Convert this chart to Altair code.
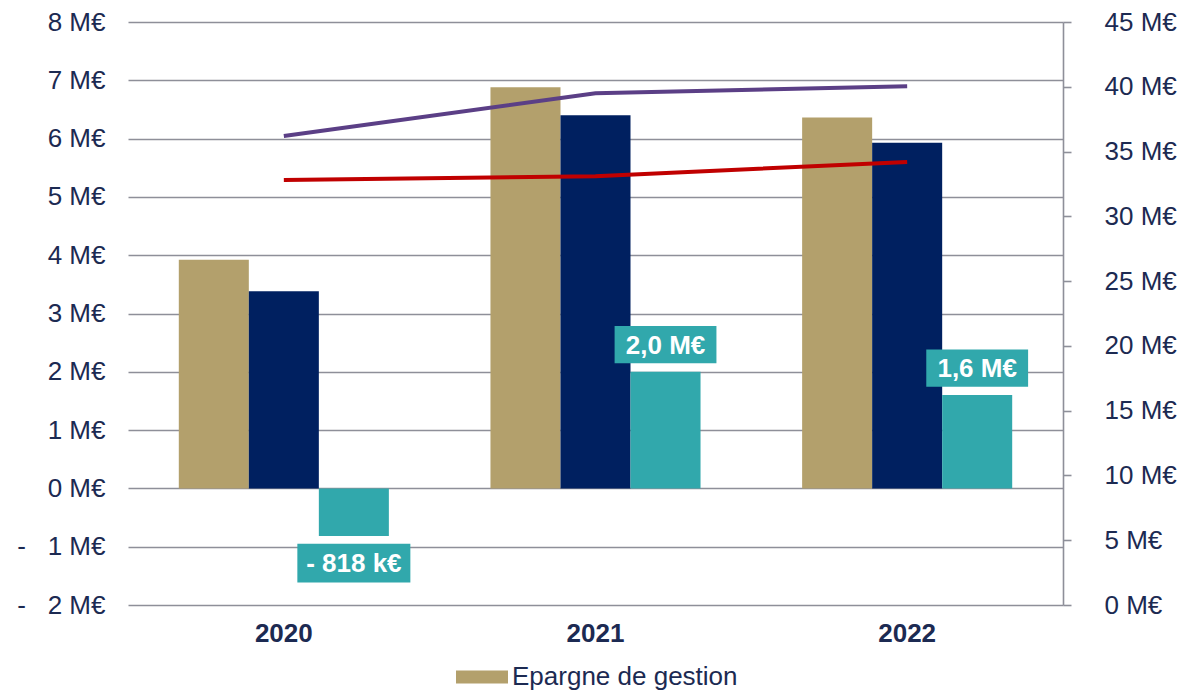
import altair as alt
import pandas as pd

years = ["2020", "2021", "2022"]
epargne_gestion = [3.92, 6.88, 6.36]
epargne_brute = [3.38, 6.40, 5.93]
epargne_nette = [-0.818, 2.0, 1.6]
nette_labels = ["- 818 k€", "2,0 M€", "1,6 M€"]
recettes = [36.2, 39.5, 40.05]
depenses = [32.8, 33.1, 34.2]

series_names = ["Epargne de gestion", "Epargne brute", "Epargne nette"]
series_colors = ["#b3a06c", "#002060", "#31a8ac"]
line_names = ["Recettes réelles de fonctionnement", "Dépenses réelles de fonctionnement"]
line_colors = ["#5b3f86", "#c00000"]

FONT = "Liberation Sans"
TXT = "#1c2a52"
GRID = "#8e8f99"

rows = []
for i, y in enumerate(years):
    for name, vals in zip(series_names, [epargne_gestion, epargne_brute, epargne_nette]):
        rows.append({"year": y, "series": name, "value": vals[i]})
bars_df = pd.DataFrame(rows)

lab_df = pd.DataFrame({"year": years, "series": series_names[2], "value": epargne_nette,
                       "label": nette_labels})

line_rows = []
for name, vals in zip(line_names, [recettes, depenses]):
    for i, y in enumerate(years):
        line_rows.append({"year": y, "serie": name, "value": vals[i]})
lines_df = pd.DataFrame(line_rows)

xscale = alt.Scale(domain=years, paddingInner=0.326, paddingOuter=0.163)
xoff_scale = alt.Scale(domain=series_names, paddingInner=0, paddingOuter=0)
yleft = alt.Scale(domain=[-2, 8], nice=False, zero=False)

x_enc = alt.X("year:N", scale=xscale, title=None, sort=years,
              axis=alt.Axis(labelFont=FONT, labelFontSize=26, labelFontWeight="bold",
                            labelColor=TXT, ticks=False, domain=False, labelPadding=15,
                            labelAngle=0))

left_axis = alt.Axis(values=list(range(-2, 9)), grid=True, gridColor=GRID, gridWidth=1.6,
                     domain=False, ticks=False, labelFont=FONT, labelFontSize=26,
                     labelColor=TXT, labelPadding=23,
                     labelExpr="datum.value < 0 ? '-\u00a0\u00a0\u00a0' + abs(datum.value) + ' M€' : datum.value + ' M€'")

bars = alt.Chart(bars_df).mark_bar().encode(
    x=x_enc,
    xOffset=alt.XOffset("series:N", scale=xoff_scale, sort=series_names),
    y=alt.Y("value:Q", scale=yleft, axis=left_axis, title=None),
    color=alt.Color("series:N", scale=alt.Scale(domain=series_names, range=series_colors),
                    legend=alt.Legend(values=["Epargne de gestion"], title=None,
                                      orient="none", legendX=341, legendY=642,
                                      labelFont=FONT, labelFontSize=26, labelColor=TXT,
                                      labelLimit=0, labelOffset=17,
                                      symbolType="M-2,-0.5L2,-0.5L2,0.5L-2,0.5Z",
                                      symbolSize=676, symbolStrokeWidth=0,
                                      symbolOpacity=1)),
)

lab_base = alt.Chart(lab_df).transform_calculate(
    ly="datum.value + (datum.value < 0 ? -0.465 : 0.465)",
    box="length(datum.label) > 6 ? 'M-1.487,-0.51L1.487,-0.51L1.487,0.51L-1.487,0.51Z' : 'M-1.34,-0.49L1.34,-0.49L1.34,0.49L-1.34,0.49Z'",
)

boxes = lab_base.mark_point(
    filled=True, opacity=1, strokeWidth=0, color="#31a8ac", size=5776,
).encode(
    x=alt.X("year:N", scale=xscale, sort=years, title=None),
    xOffset=alt.XOffset("series:N", scale=xoff_scale, sort=series_names),
    y=alt.Y("ly:Q", scale=yleft, title=None),
    shape=alt.Shape("box:N", scale=None),
)

texts = lab_base.mark_text(
    font=FONT, fontSize=26, fontWeight="bold", color="white", baseline="middle", dy=1,
).encode(
    x=alt.X("year:N", scale=xscale, sort=years, title=None),
    xOffset=alt.XOffset("series:N", scale=xoff_scale, sort=series_names),
    y=alt.Y("ly:Q", scale=yleft, title=None),
    text="label:N",
)

left = alt.layer(bars, boxes, texts)

lines = alt.Chart(lines_df).mark_line(strokeWidth=4).encode(
    x=alt.X("year:N", scale=xscale, sort=years, title=None),
    y=alt.Y("value:Q", scale=alt.Scale(domain=[0, 45], nice=False), title=None,
            axis=alt.Axis(orient="right", values=list(range(0, 46, 5)), grid=False,
                          domain=True, domainColor=GRID, domainWidth=1.6,
                          ticks=True, tickColor=GRID, tickWidth=1.6, tickSize=8,
                          labelFont=FONT, labelFontSize=26, labelColor=TXT,
                          labelPadding=33, labelExpr="datum.value + ' M€'")),
    color=alt.Color("serie:N", scale=alt.Scale(domain=line_names, range=line_colors),
                    legend=None),
)

chart = alt.layer(left, lines).resolve_scale(
    y="independent", color="independent", shape="independent"
).properties(
    width=935, height=583,
    autosize=alt.AutoSizeParams(type="none"),
    padding={"left": 120, "top": 14, "right": 116, "bottom": 86},
).configure_view(stroke=None)

chart.save("out.html", embed_options={"renderer": "svg", "actions": False})
